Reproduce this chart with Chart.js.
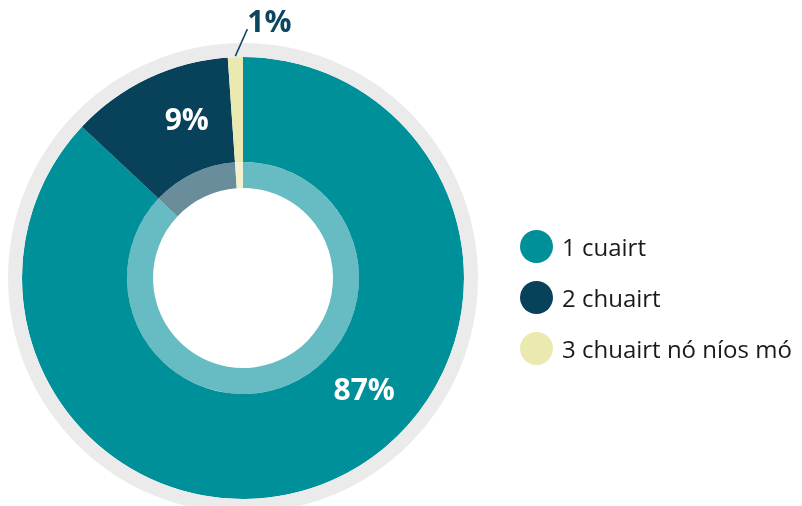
<!DOCTYPE html>
<html>
<head>
<meta charset="utf-8">
<script src="https://cdn.jsdelivr.net/npm/chart.js@4.4.1/dist/chart.umd.min.js"></script>
<style>
    html, body { margin: 0; padding: 0; background: #fff; overflow: hidden; }
    body { width: 802px; height: 506px; position: relative; font-family: 'Open Sans', sans-serif; }
    #wrap { position: absolute; left: 0; top: 0; width: 802px; height: 520px; }
    .legend { position: absolute; left: 520px; top: 221px; }
    .legend-item { display: flex; align-items: center; height: 51px; font-size: 24px; color: #1a1a1a; }
    .legend-dot { width: 33px; height: 33px; border-radius: 50%; margin-right: 9px; }
</style>
</head>
<body>
<div id="wrap"><canvas id="visitsChart" width="802" height="520"></canvas></div>
<div class="legend" id="visitsLegend"></div>

<script>
const categories = ['1 cuairt', '2 chuairt', '3 chuairt nó níos mó'];
const shares = [87, 11.9, 1.1];
const shareLabels = ['87%', '9%', '1%'];

const colors = ['#00909a', '#07415a', '#eae9b0'];
const lightColors = ['#66bcc2', '#6a8d9c', '#f2f2d0'];

// where along each slice its label sits (fraction of the arc), null = outside with a leader line
const labelAt = [0.425, 0.63, null];

const sliceLabels = {
    id: 'sliceLabels',
    afterDatasetsDraw(chart) {
        const ctx = chart.ctx;
        const meta = chart.getDatasetMeta(1);
        ctx.save();
        ctx.font = 'bold 30px "Open Sans"';
        ctx.textBaseline = 'middle';
        meta.data.forEach((arc, i) => {
            const { x, y, startAngle, endAngle, outerRadius } = arc.getProps(['x', 'y', 'startAngle', 'endAngle', 'outerRadius'], true);
            if (labelAt[i] !== null) {
                const a = startAngle + labelAt[i] * (endAngle - startAngle);
                const r = 166;
                ctx.fillStyle = '#ffffff';
                ctx.textAlign = 'center';
                ctx.fillText(shareLabels[i], x + r * Math.cos(a), y + r * Math.sin(a));
            } else {
                const a = (startAngle + endAngle) / 2;
                const ex = x + (outerRadius + 1) * Math.cos(a);
                const ey = y + (outerRadius + 1) * Math.sin(a);
                const lx = ex + 12, ly = ey - 27;
                ctx.strokeStyle = '#0b4560';
                ctx.lineWidth = 1.5;
                ctx.beginPath();
                ctx.moveTo(ex, ey);
                ctx.lineTo(lx, ly);
                ctx.stroke();
                ctx.fillStyle = '#0b4560';
                ctx.textAlign = 'left';
                ctx.fillText(shareLabels[i], lx, ly - 6);
            }
        });
        ctx.restore();
    }
};

const ctx = document.getElementById('visitsChart').getContext('2d');
new Chart(ctx, {
    type: 'doughnut',
    data: {
        labels: categories,
        datasets: [
            { data: [100], backgroundColor: ['#ebebeb'], borderWidth: 0, weight: 14 },
            { data: shares, backgroundColor: colors, borderWidth: 0, weight: 105 },
            { data: shares, backgroundColor: lightColors, borderWidth: 0, weight: 26 }
        ]
    },
    options: {
        responsive: false,
        animation: false,
        cutout: 90,
        layout: { padding: { left: 8, right: 324, top: 43, bottom: 7 } },
        plugins: {
            legend: { display: false },
            tooltip: { enabled: false }
        }
    },
    plugins: [sliceLabels]
});

document.getElementById('visitsLegend').innerHTML = categories.map((c, i) => `
    <div class="legend-item">
        <div class="legend-dot" style="background: ${colors[i]}"></div>
        <span>${c}</span>
    </div>
`).join('');
</script>
</body>
</html>
